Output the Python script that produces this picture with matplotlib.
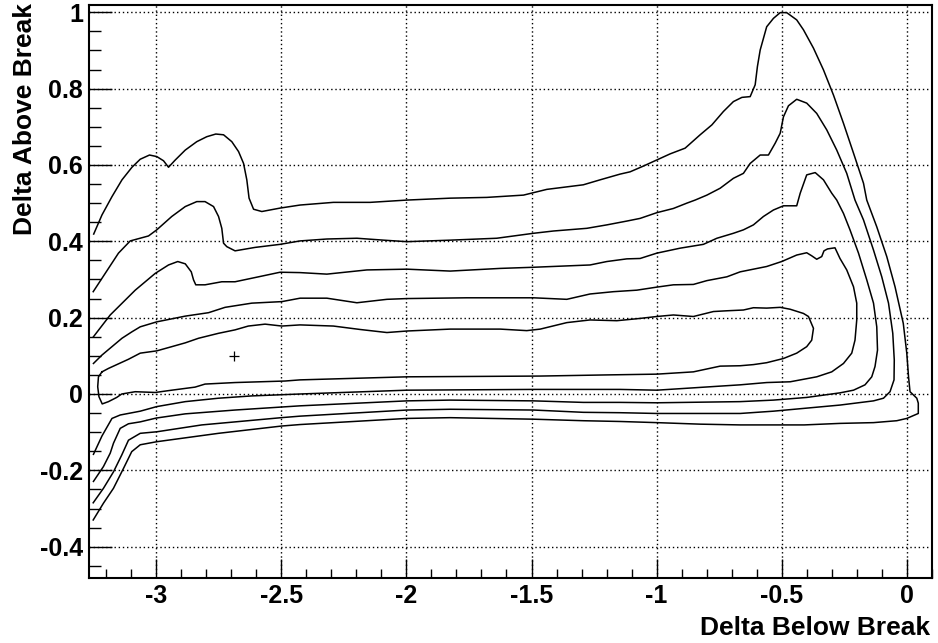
import matplotlib
matplotlib.use("Agg")
import matplotlib.pyplot as plt
from matplotlib.ticker import MultipleLocator, FixedLocator, FuncFormatter

plt.rcParams['font.family'] = ['Liberation Sans', 'DejaVu Sans']
plt.rcParams['axes.unicode_minus'] = False

# ---- contour data ----
c1_x = [-3.25, -3.217, -3.177, -3.137, -3.097, -3.064, -3.027, -2.998, -2.971, -2.951, -2.924, -2.884,
        -2.838, -2.798, -2.762, -2.731, -2.698, -2.671, -2.651, -2.638, -2.629, -2.611, -2.578, -2.505,
        -2.425, -2.292, -2.145, -1.998, -1.825, -1.679, -1.532, -1.439, -1.293, -1.226, -1.146, -1.106,
        -1.053, -0.946, -0.886, -0.826, -0.779, -0.733, -0.693, -0.659, -0.626, -0.606, -0.597, -0.586,
        -0.560, -0.533, -0.506, -0.480, -0.440, -0.413, -0.373, -0.333, -0.293, -0.253, -0.213, -0.173,
        -0.160, -0.120, -0.080, -0.047, -0.014, 0.000, 0.007, 0.013, 0.040, 0.046, 0.046, 0.000,
        -0.040, -0.133, -0.267, -0.410, -0.666, -0.826, -0.999, -1.146, -1.293, -1.492, -1.825, -1.998,
        -2.425, -2.500, -2.751, -2.998, -3.064, -3.098, -3.131, -3.171, -3.211, -3.252]
c1_y = [0.419, 0.469, 0.517, 0.561, 0.594, 0.615, 0.626, 0.622, 0.611, 0.594, 0.613, 0.639,
        0.661, 0.674, 0.681, 0.679, 0.661, 0.635, 0.604, 0.561, 0.513, 0.484, 0.478, 0.487,
        0.495, 0.502, 0.502, 0.508, 0.513, 0.515, 0.521, 0.536, 0.548, 0.561, 0.576, 0.582,
        0.597, 0.629, 0.644, 0.679, 0.705, 0.740, 0.766, 0.777, 0.779, 0.810, 0.858, 0.901,
        0.962, 0.984, 0.999, 0.999, 0.980, 0.954, 0.906, 0.849, 0.783, 0.709, 0.631, 0.552,
        0.508, 0.438, 0.360, 0.281, 0.185, 0.107, 0.045, 0.006, -0.011, -0.024, -0.051, -0.064,
        -0.070, -0.075, -0.077, -0.081, -0.081, -0.079, -0.075, -0.072, -0.070, -0.066, -0.062, -0.064,
        -0.080, -0.084, -0.103, -0.125, -0.133, -0.151, -0.195, -0.247, -0.286, -0.330]

c2_x = [-3.252, -3.204, -3.151, -3.104, -3.031, -2.998, -2.938, -2.884, -2.838, -2.805, -2.771, -2.751,
        -2.738, -2.731, -2.718, -2.685, -2.605, -2.505, -2.425, -2.318, -2.198, -2.091, -1.998, -1.825,
        -1.639, -1.492, -1.412, -1.279, -1.199, -1.119, -1.066, -0.999, -0.933, -0.879, -0.846, -0.799,
        -0.746, -0.693, -0.653, -0.626, -0.586, -0.553, -0.526, -0.506, -0.493, -0.473, -0.440, -0.400,
        -0.360, -0.320, -0.280, -0.240, -0.207, -0.173, -0.133, -0.100, -0.073, -0.056, -0.050, -0.051,
        -0.067, -0.093, -0.133, -0.267, -0.400, -0.533, -0.666, -0.999, -1.146, -1.293, -1.492, -1.825,
        -1.998, -2.425, -2.500, -2.818, -2.998, -3.064, -3.111, -3.138, -3.171, -3.211, -3.252]
c2_y = [0.268, 0.316, 0.369, 0.401, 0.414, 0.430, 0.465, 0.491, 0.504, 0.504, 0.491, 0.465,
        0.434, 0.395, 0.386, 0.375, 0.384, 0.392, 0.401, 0.406, 0.408, 0.403, 0.399, 0.403,
        0.408, 0.421, 0.427, 0.434, 0.443, 0.453, 0.460, 0.475, 0.486, 0.500, 0.508, 0.521,
        0.539, 0.565, 0.578, 0.604, 0.626, 0.626, 0.657, 0.683, 0.726, 0.755, 0.772, 0.762,
        0.735, 0.692, 0.639, 0.578, 0.508, 0.456, 0.377, 0.307, 0.238, 0.159, 0.089, 0.037,
        0.006, -0.011, -0.018, -0.029, -0.037, -0.045, -0.051, -0.051, -0.049, -0.048, -0.042, -0.040,
        -0.042, -0.058, -0.062, -0.081, -0.099, -0.103, -0.121, -0.160, -0.204, -0.247, -0.285]

c3_x = [-3.251, -3.184, -3.164, -3.084, -3.004, -2.951, -2.914, -2.884, -2.860, -2.851, -2.842, -2.805,
        -2.738, -2.685, -2.591, -2.505, -2.425, -2.318, -2.158, -1.998, -1.825, -1.625, -1.492, -1.266,
        -1.199, -1.119, -1.066, -0.999, -0.906, -0.813, -0.759, -0.693, -0.653, -0.613, -0.573, -0.533,
        -0.493, -0.440, -0.426, -0.400, -0.366, -0.333, -0.300, -0.280, -0.253, -0.227, -0.193, -0.160,
        -0.133, -0.120, -0.117, -0.127, -0.140, -0.167, -0.213, -0.267, -0.400, -0.533, -0.666, -0.999,
        -1.146, -1.293, -1.492, -1.825, -1.998, -2.425, -2.685, -2.884, -3.000, -3.064, -3.111, -3.144,
        -3.171, -3.184, -3.211, -3.251]
c3_y = [0.150, 0.207, 0.220, 0.272, 0.316, 0.338, 0.347, 0.341, 0.320, 0.299, 0.286, 0.286,
        0.294, 0.294, 0.307, 0.319, 0.318, 0.314, 0.325, 0.327, 0.322, 0.329, 0.332, 0.338,
        0.347, 0.354, 0.355, 0.369, 0.382, 0.392, 0.408, 0.421, 0.430, 0.443, 0.465, 0.482,
        0.493, 0.493, 0.526, 0.574, 0.580, 0.561, 0.526, 0.508, 0.473, 0.430, 0.369, 0.299,
        0.238, 0.176, 0.115, 0.072, 0.045, 0.024, 0.010, 0.003, -0.009, -0.016, -0.020, -0.023,
        -0.022, -0.022, -0.018, -0.016, -0.018, -0.031, -0.042, -0.052, -0.063, -0.073, -0.078, -0.090,
        -0.129, -0.155, -0.190, -0.229]

c4_x = [-3.251, -3.217, -3.177, -3.137, -3.097, -3.064, -2.998, -2.884, -2.791, -2.725, -2.618, -2.498,
        -2.425, -2.318, -2.198, -2.078, -1.998, -1.759, -1.492, -1.359, -1.266, -1.173, -1.079, -0.999,
        -0.933, -0.853, -0.799, -0.719, -0.666, -0.613, -0.560, -0.500, -0.440, -0.400, -0.380, -0.360,
        -0.340, -0.331, -0.317, -0.287, -0.267, -0.240, -0.213, -0.200, -0.200, -0.207, -0.220, -0.253,
        -0.300, -0.360, -0.466, -0.560, -0.666, -0.999, -1.146, -1.492, -1.998, -2.425, -2.618, -2.751,
        -2.884, -2.998, -3.064, -3.144, -3.177, -3.217, -3.251]
c4_y = [0.080, 0.102, 0.124, 0.146, 0.163, 0.176, 0.189, 0.204, 0.213, 0.227, 0.238, 0.242,
        0.251, 0.251, 0.239, 0.248, 0.250, 0.252, 0.252, 0.248, 0.262, 0.268, 0.272, 0.280,
        0.286, 0.287, 0.297, 0.307, 0.320, 0.327, 0.334, 0.347, 0.364, 0.370, 0.362, 0.353,
        0.360, 0.375, 0.380, 0.383, 0.355, 0.325, 0.281, 0.238, 0.194, 0.141, 0.107, 0.080,
        0.058, 0.045, 0.032, 0.030, 0.024, 0.010, 0.012, 0.012, 0.010, 0.000, -0.005, -0.011,
        -0.020, -0.033, -0.045, -0.055, -0.064, -0.110, -0.158]

c5_x = [-3.217, -3.191, -3.151, -3.111, -3.064, -2.998, -2.938, -2.884, -2.831, -2.751, -2.685, -2.632,
        -2.565, -2.498, -2.425, -2.292, -2.185, -2.078, -1.998, -1.825, -1.625, -1.519, -1.465, -1.359,
        -1.266, -1.159, -1.066, -0.999, -0.933, -0.853, -0.773, -0.719, -0.653, -0.613, -0.560, -0.506,
        -0.466, -0.413, -0.393, -0.373, -0.380, -0.400, -0.440, -0.493, -0.560, -0.613, -0.666, -0.746,
        -0.853, -0.999, -1.199, -1.465, -1.998, -2.425, -2.485, -2.685, -2.805, -2.845, -2.938, -3.004,
        -3.084, -3.138, -3.158, -3.191, -3.216, -3.229, -3.234, -3.231, -3.217]
c5_y = [0.058, 0.067, 0.079, 0.091, 0.107, 0.113, 0.124, 0.134, 0.146, 0.159, 0.168, 0.178,
        0.183, 0.178, 0.181, 0.178, 0.169, 0.161, 0.165, 0.170, 0.170, 0.166, 0.170, 0.187,
        0.194, 0.192, 0.198, 0.203, 0.207, 0.203, 0.216, 0.218, 0.220, 0.226, 0.225, 0.227,
        0.222, 0.211, 0.203, 0.172, 0.141, 0.124, 0.107, 0.093, 0.082, 0.077, 0.074, 0.073,
        0.058, 0.052, 0.050, 0.047, 0.045, 0.037, 0.034, 0.030, 0.026, 0.018, 0.010, 0.004,
        0.006, 0.000, -0.009, -0.020, -0.026, -0.007, 0.019, 0.045, 0.058]

best_x = [-2.69]
best_y = [0.10]

x_ticks = [-3, -2.5, -2, -1.5, -1, -0.5, 0]
y_ticks = [-0.4, -0.2, 0, 0.2, 0.4, 0.6, 0.8, 1.0]
x_title = "Delta Below Break"
y_title = "Delta Above Break"

# ---- figure ----
fig = plt.figure(figsize=(9.38, 6.43), dpi=100)
ax = fig.add_axes([88.7 / 938, 65 / 643, (932.3 - 88.7) / 938, (578 - 5) / 643])

for cx, cy in [(c1_x, c1_y), (c2_x, c2_y), (c3_x, c3_y), (c4_x, c4_y), (c5_x, c5_y)]:
    ax.plot(cx, cy, color='black', lw=1.1, solid_joinstyle='round')

ax.plot(best_x, best_y, marker='+', color='black', markersize=7, mew=0.9, ls='none')

ax.set_xlim(-3.27, 0.102)
ax.set_ylim(-0.482, 1.019)

ax.xaxis.set_major_locator(FixedLocator(x_ticks))
ax.xaxis.set_minor_locator(MultipleLocator(0.1))
ax.yaxis.set_major_locator(FixedLocator(y_ticks))
ax.yaxis.set_minor_locator(MultipleLocator(0.05))


def fmt(v, pos):
    s = ('%.1f' % v).rstrip('0').rstrip('.')
    if s == '-0':
        s = '0'
    return s


ax.xaxis.set_major_formatter(FuncFormatter(fmt))
ax.yaxis.set_major_formatter(FuncFormatter(fmt))

ax.tick_params(axis='both', which='both', direction='in', top=False, right=False,
               width=1.0, color='black')
ax.tick_params(axis='x', which='major', length=13.7, pad=4.5, labelsize=18)
ax.tick_params(axis='x', which='minor', length=6.5)
ax.tick_params(axis='y', which='major', length=16.5, pad=4, labelsize=18)
ax.tick_params(axis='y', which='minor', length=8.3)
for lab in ax.get_xticklabels() + ax.get_yticklabels():
    lab.set_fontweight('bold')

ax.grid(True, which='major', color='black', lw=1.0, linestyle=(0, (1, 2)))
ax.set_axisbelow(False)

for sp in ax.spines.values():
    sp.set_linewidth(1.5)
    sp.set_color('black')

fig.text(930 / 938, (643 - 635) / 643, x_title, ha='right', va='baseline',
         fontsize=19, fontweight='bold')
fig.text(32 / 938, (643 - 3) / 643, y_title, ha='right', va='baseline', rotation=90,
         rotation_mode='anchor', fontsize=19, fontweight='bold')

fig.savefig('out.png', dpi=100, facecolor='white')
